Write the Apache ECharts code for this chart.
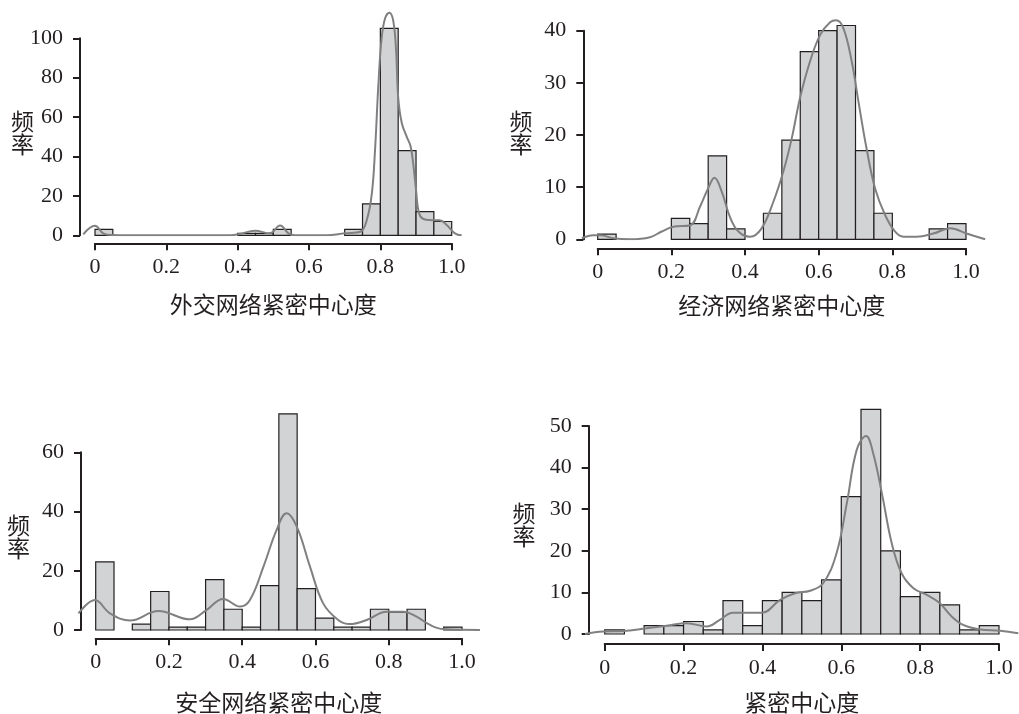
<!DOCTYPE html>
<html><head><meta charset="utf-8">
<script src="https://cdn.jsdelivr.net/npm/echarts@6/dist/echarts.min.js"></script>
<style>html,body{margin:0;padding:0;background:#fff}#c{width:1019px;height:714px}</style>
</head><body><div id="c"></div>
<script>
// ---------- data ----------
const binWidth = 0.05;
const xTickValues = [0, 0.2, 0.4, 0.6, 0.8, 1.0];
const titles = ['外交网络紧密中心度', '经济网络紧密中心度', '安全网络紧密中心度', '紧密中心度'];
const yAxisLabel = '频率';
const yTopTicks = [100, 40, 60, 50];
const yTickIntervals = [20, 10, 20, 10];

const diplomaticCounts = [3,0,0,0,0,0,0,0,1,1,3,0,0,0,3,16,105,43,12,7];
const economicCounts   = [1,0,0,0,4,3,16,2,0,5,19,36,40,41,17,5,0,0,2,3];
const securityCounts   = [23,0,2,13,1,1,17,7,1,15,73,14,4,1,1,7,6,7,0,1];
const closenessCounts  = [1,0,2,2,3,1,8,2,8,10,8,13,33,54,20,9,10,7,1,2];

const diplomaticKdeX = [-0.033,0.0,0.023,0.045,0.1,0.2,0.3,0.38,0.402,0.449,0.49,0.519,0.542,0.56,0.65,0.7,0.744,0.762,0.776,0.785,0.794,0.803,0.813,0.825,0.836,0.844,0.85,0.86,0.874,0.885,0.892,0.90,0.909,0.925,0.948,0.966,0.986,1.009,1.028];
const diplomaticKdeY = [0.5,4.8,1,0.1,0,0,0,0,0.5,2.3,1,5,1,0,0,1,1.8,7.8,21,43,75,99,110,113,109,94,70,57,50,45,36.5,23,11,8,7.7,7.7,5.2,1,0];

const economicKdeX = [-0.043,-0.012,0.006,0.042,0.088,0.142,0.174,0.205,0.251,0.278,0.300,0.317,0.337,0.359,0.382,0.414,0.445,0.477,0.504,0.527,0.549,0.576,0.604,0.631,0.647,0.667,0.690,0.708,0.730,0.753,0.780,0.807,0.830,0.866,0.911,0.957,1.002,1.052];
const economicKdeY = [0.2,0.8,0.8,0.2,0,0.4,1.5,2.4,2.7,6.3,9.8,11.8,9.1,4.3,1.5,0.5,2.1,7.2,13,19.4,27,34,39.2,41.6,42,40.5,34,26.4,17.4,9.8,4.7,1.5,0.5,0.5,1.1,2.1,1.1,0];

const securityKdeX = [-0.047,-0.002,0.039,0.094,0.171,0.257,0.303,0.348,0.394,0.421,0.458,0.494,0.521,0.549,0.585,0.621,0.662,0.694,0.74,0.794,0.84,0.876,0.913,0.949,1.049];
const securityKdeY = [5.6,10.1,5.6,3.2,6.4,3.6,6.8,10.5,7.9,10.1,21.4,33.8,39.4,34.9,21.4,9,3.4,2,3.4,6.2,6.2,4.5,1.7,0.3,0];

const closenessKdeX = [-0.05,-0.004,0.047,0.106,0.157,0.208,0.259,0.292,0.325,0.398,0.445,0.483,0.521,0.554,0.588,0.614,0.639,0.663,0.681,0.703,0.728,0.753,0.783,0.817,0.85,0.88,0.909,0.952,1.003,1.049];
const closenessKdeY = [0,0.6,0.7,1.4,2.0,2.6,1.8,3.4,5.1,5.1,8.2,9.8,10.4,12.2,19.4,31.4,44.2,47.6,43.4,33.8,21.8,14.6,11,9.4,7.4,4.2,2.2,1.1,0.8,0.2];

const allCounts = [diplomaticCounts, economicCounts, securityCounts, closenessCounts];
const allKdeX = [diplomaticKdeX, economicKdeX, securityKdeX, closenessKdeX];
const allKdeY = [diplomaticKdeY, economicKdeY, securityKdeY, closenessKdeY];

// ---------- layout (pixels) ----------
const layouts = [
  {x0:95,    x1:451.7, y0:235.3, yTopPx:38.3,  yAxisX:80,    xAxisY:243.3, yMax:118, nameGap:49, yName:[22.5,132.5]},
  {x0:597.7, x1:966,   y0:239.3, yTopPx:30.7,  yAxisX:583.3, xAxisY:248.3, yMax:44,  nameGap:45, yName:[521,132.5]},
  {x0:95.7,  x1:462,   y0:630,   yTopPx:452.3, yAxisX:81,    xAxisY:638.3, yMax:78,  nameGap:52, yName:[18.5,537]},
  {x0:604.7, x1:999,   y0:634,   yTopPx:426,   yAxisX:588.7, xAxisY:644,   yMax:58,  nameGap:47, yName:[524,525]}
];

const INK = '#231f20';
const BAR_FILL = '#d1d3d4';
const CURVE = '#808080';
const NUM_FONT = '"Liberation Serif", "DejaVu Serif", serif';
const CJK_FONT = '"Noto Sans CJK SC", sans-serif';

const grid = [], xAxis = [], yAxis = [], series = [], graphic = [];

layouts.forEach((L, i) => {
  const s = L.x1 - L.x0;
  const k = (L.y0 - L.yTopPx) / yTopTicks[i];
  const pg = grid.length;
  // plot grid
  grid.push({left: L.x0 - 0.1 * s, width: 1.2 * s, top: L.y0 - L.yMax * k, height: L.yMax * k, outerBoundsMode: 'none'});
  xAxis.push({gridIndex: pg, type: 'value', min: -0.1, max: 1.1, show: false});
  yAxis.push({gridIndex: pg, type: 'value', min: 0, max: L.yMax, show: false});
  // x-axis grid
  const xg = grid.length;
  grid.push({left: L.x0, width: s, top: L.xAxisY - 10, height: 10, outerBoundsMode: 'none'});
  xAxis.push({
    gridIndex: xg, type: 'value', position: 'bottom', min: 0, max: 1, interval: 0.2,
    axisLine: {show: true, lineStyle: {color: INK, width: 2}},
    axisTick: {show: true, length: 7, lineStyle: {color: INK, width: 2}},
    axisLabel: {show: true, margin: 13, color: INK, fontFamily: NUM_FONT, fontSize: 22,
      formatter: v => v === 0 ? '0' : v.toFixed(1)},
    splitLine: {show: false},
    name: titles[i], nameLocation: 'middle', nameGap: L.nameGap,
    nameTextStyle: {color: INK, fontFamily: CJK_FONT, fontSize: 23}
  });
  yAxis.push({gridIndex: xg, type: 'value', show: false});
  // y-axis grid
  const yg = grid.length;
  grid.push({left: L.yAxisX, width: 1, top: L.yTopPx, height: L.y0 - L.yTopPx, outerBoundsMode: 'none'});
  xAxis.push({gridIndex: yg, type: 'value', show: false});
  yAxis.push({
    gridIndex: yg, type: 'value', position: 'left', min: 0, max: yTopTicks[i], interval: yTickIntervals[i],
    axisLine: {show: true, lineStyle: {color: INK, width: 2}},
    axisTick: {show: true, length: 7, lineStyle: {color: INK, width: 2}},
    axisLabel: {show: true, margin: 17, color: INK, fontFamily: NUM_FONT, fontSize: 22},
    splitLine: {show: false}
  });

  // histogram bars
  const barData = allCounts[i].map((c, j) => [j * binWidth, (j + 1) * binWidth, c]).filter(d => d[2] > 0);
  series.push({
    type: 'custom', xAxisIndex: pg, yAxisIndex: pg, z: 2, silent: true,
    encode: {x: [0, 1], y: 2},
    data: barData,
    renderItem: (params, api) => {
      const p0 = api.coord([api.value(0), api.value(2)]);
      const p1 = api.coord([api.value(1), 0]);
      return {type: 'rect', shape: {x: p0[0], y: p0[1], width: p1[0] - p0[0], height: p1[1] - p0[1]},
        style: {fill: BAR_FILL, stroke: INK, lineWidth: 1.2}};
    }
  });
  // density curve
  series.push({
    type: 'line', xAxisIndex: pg, yAxisIndex: pg, z: 3, silent: true,
    showSymbol: false, symbol: 'none', smooth: 0.4,
    lineStyle: {color: CURVE, width: 2},
    data: allKdeX[i].map((x, j) => [x, allKdeY[i][j]])
  });
  // y-axis label
  graphic.push({
    type: 'text', x: L.yName[0], y: L.yName[1],
    style: {text: yAxisLabel.split('').join('\n'), fill: INK, font: '23px ' + CJK_FONT,
      align: 'center', verticalAlign: 'middle', lineHeight: 23}
  });
});

const chart = echarts.init(document.getElementById('c'), null, {renderer: 'canvas'});
chart.setOption({animation: false, backgroundColor: '#fff', grid, xAxis, yAxis, series, graphic});
</script>
</body></html>
